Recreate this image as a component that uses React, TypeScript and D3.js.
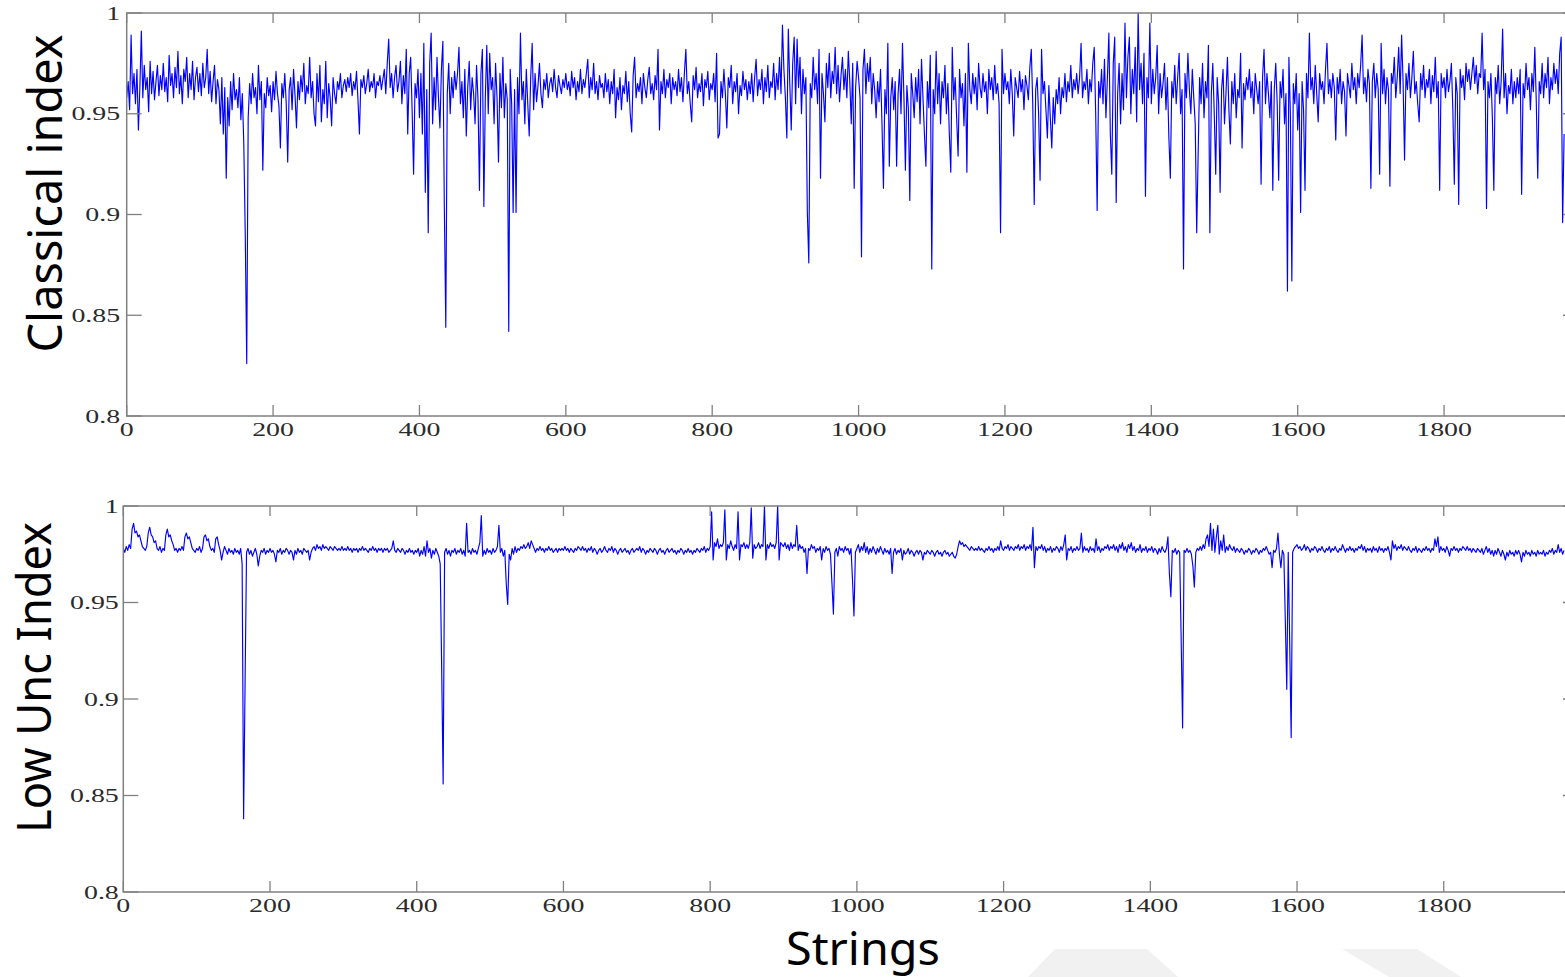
import * as d3 from 'd3'
import React, { useEffect, useRef } from 'react'

// index values in thousandths, one reading for every second string (0, 2, 4 ... 1964)
const classicalIndex = [
  958, 966, 952, 989, 960, 970, 955, 972, 942, 963, 991, 958, 974, 962, 968, 951, 976, 960, 971, 957, 966, 974, 959, 969, 962,
  975, 961, 968, 956, 979, 964, 970, 958, 973, 963, 981, 960, 969, 955, 972, 966, 978, 958, 970, 962, 976, 957, 968, 973, 961,
  970, 959, 975, 963, 968, 982, 960, 971, 956, 966, 974, 955, 967, 962, 945, 968, 940, 963, 918, 958, 944, 966, 952, 970, 957,
  962, 953, 968, 947, 960, 935, 890, 826, 948, 965, 955, 970, 958, 963, 950, 974, 957, 966, 922, 960, 953, 968, 959, 964, 951,
  966, 957, 971, 960, 954, 933, 965, 958, 970, 955, 926, 962, 968, 952, 972, 959, 943, 966, 957, 969, 961, 975, 955, 964, 960,
  978, 958, 966, 950, 944, 970, 956, 974, 946, 962, 955, 976, 948, 965, 958, 944, 968, 960, 955, 966, 962, 970, 958, 964, 967,
  961, 968, 963, 970, 959, 966, 962, 971, 957, 940, 967, 963, 969, 960, 965, 972, 961, 966, 963, 970, 958, 966, 964, 969, 962,
  967, 972, 960, 975, 987, 963, 970, 958, 968, 974, 961, 966, 976, 955, 969, 960, 982, 940, 970, 978, 952, 920, 965, 958, 972,
  948, 970, 940, 985, 911, 962, 891, 975, 990, 945, 968, 952, 978, 958, 943, 972, 986, 904, 844, 960, 975, 950, 968, 958, 971,
  962, 970, 983, 955, 966, 948, 972, 939, 963, 976, 952, 968, 960, 945, 974, 957, 912, 970, 982, 904, 958, 984, 950, 980, 962,
  968, 945, 975, 958, 926, 970, 953, 978, 948, 965, 957, 842, 972, 955, 901, 962, 901, 968, 950, 990, 957, 966, 945, 972, 955,
  939, 968, 985, 952, 970, 956, 964, 975, 960, 953, 967, 962, 970, 958, 965, 968, 961, 972, 963, 958, 969, 964, 960, 967, 963,
  970, 962, 966, 959, 971, 963, 968, 957, 966, 961, 972, 960, 967, 963, 970, 977, 958, 968, 962, 975, 960, 966, 957, 969, 963,
  965, 958, 970, 961, 967, 955, 966, 960, 972, 948, 963, 957, 968, 952, 964, 960, 971, 956, 966, 950, 941, 969, 978, 958, 965,
  961, 968, 955, 970, 963, 958, 967, 973, 960, 965, 957, 969, 962, 982, 942, 966, 960, 972, 958, 967, 963, 970, 955, 968, 962,
  966, 959, 972, 961, 968, 956, 970, 982, 960, 966, 955, 946, 969, 962, 973, 958, 965, 961, 970, 954, 967, 963, 971, 957, 965,
  962, 970, 956, 980, 938, 940, 966, 958, 972, 960, 943, 968, 963, 974, 955, 966, 961, 970, 950, 964, 959, 971, 962, 967, 957,
  966, 960, 970, 956, 968, 977, 959, 967, 962, 972, 955, 968, 961, 974, 958, 966, 963, 975, 957, 970, 962, 978, 960, 994, 972,
  958, 938, 992, 965, 942, 975, 988, 955, 987, 963, 978, 950, 972, 960, 968, 901, 876, 965, 958, 978, 962, 970, 955, 982, 918,
  970, 960, 946, 975, 963, 980, 958, 971, 965, 983, 960, 974, 956, 969, 978, 962, 972, 958, 981, 966, 945, 975, 913, 963, 976,
  968, 958, 879, 972, 982, 960, 975, 966, 978, 955, 970, 962, 948, 966, 956, 972, 945, 913, 962, 950, 985, 924, 958, 968, 952,
  966, 924, 960, 972, 950, 985, 958, 922, 964, 953, 907, 970, 960, 948, 968, 956, 972, 945, 977, 958, 940, 924, 966, 953, 979,
  873, 962, 950, 981, 955, 970, 945, 966, 958, 974, 950, 965, 940, 921, 983, 957, 968, 948, 929, 972, 958, 965, 944, 970, 921,
  985, 962, 955, 970, 960, 968, 952, 975, 963, 958, 970, 961, 966, 950, 972, 962, 968, 957, 974, 960, 965, 955, 891, 982, 960,
  970, 962, 966, 955, 972, 960, 939, 968, 963, 958, 971, 961, 967, 952, 969, 964, 957, 973, 982, 955, 905, 962, 968, 950, 917,
  982, 960, 966, 952, 938, 964, 948, 933, 958, 945, 962, 955, 968, 950, 963, 958, 970, 956, 966, 961, 974, 958, 967, 962, 970,
  960, 968, 985, 958, 966, 962, 972, 955, 967, 961, 975, 983, 950, 902, 966, 958, 972, 955, 977, 948, 968, 990, 940, 920, 975,
  988, 906, 960, 975, 945, 970, 952, 995, 958, 978, 988, 950, 972, 960, 983, 946, 1000, 962, 975, 955, 980, 909, 968, 958, 995,
  955, 972, 960, 968, 984, 950, 970, 958, 965, 975, 952, 968, 938, 918, 966, 958, 974, 955, 968, 980, 950, 962, 873, 970, 958,
  980, 962, 950, 972, 958, 945, 891, 930, 968, 955, 975, 948, 966, 958, 984, 891, 960, 975, 950, 920, 968, 955, 911, 962, 972,
  945, 960, 978, 952, 935, 966, 955, 970, 948, 962, 958, 980, 933, 965, 957, 968, 962, 972, 958, 966, 950, 970, 962, 955, 966,
  915, 968, 982, 955, 970, 960, 948, 966, 912, 962, 975, 955, 917, 966, 958, 972, 945, 960, 862, 978, 950, 867, 965, 955, 970,
  942, 960, 901, 966, 952, 912, 970, 958, 990, 962, 968, 955, 974, 960, 946, 970, 962, 966, 955, 972, 985, 960, 967, 958, 970,
  963, 937, 968, 960, 972, 955, 966, 961, 939, 970, 964, 958, 975, 962, 968, 955, 970, 963, 974, 989, 960, 968, 956, 972, 965,
  913, 966, 975, 958, 970, 962, 920, 985, 960, 972, 955, 968, 962, 914, 970, 965, 978, 958, 968, 983, 960, 989, 966, 927, 970,
  962, 975, 958, 968, 981, 960, 966, 955, 946, 970, 962, 974, 958, 967, 963, 972, 955, 969, 961, 978, 958, 966, 912, 970, 963,
  968, 958, 972, 961, 966, 975, 952, 915, 968, 960, 905, 972, 963, 969, 957, 975, 966, 972, 962, 970, 978, 965, 974, 960, 970,
  968, 990, 962, 972, 903, 966, 958, 970, 948, 912, 968, 960, 974, 955, 966, 992, 958, 970, 950, 964, 960, 972, 955, 966, 958,
  968, 960, 972, 910, 965, 958, 975, 962, 968, 952, 970, 961, 983, 956, 918, 966, 960, 975, 958, 970, 963, 978, 955, 968, 962,
  975, 965, 972, 960, 980, 988, 896, 940,
]

const lowUncIndex = [
  978, 976, 979, 977, 980, 978, 988, 991, 986, 987, 984, 985, 982, 979, 978, 977, 979, 986, 989, 985, 984, 981, 982, 978, 977,
  979, 976, 978, 977, 985, 988, 984, 985, 982, 980, 977, 978, 976, 978, 977, 979, 977, 984, 986, 983, 984, 981, 978, 977, 976,
  978, 977, 979, 976, 978, 984, 985, 982, 983, 979, 977, 978, 976, 983, 984, 980, 977, 972, 976, 979, 977, 975, 978, 976, 977,
  975, 978, 976, 977, 975, 978, 970, 838, 908, 976, 978, 975, 977, 974, 976, 978, 975, 969, 974, 977, 976, 978, 975, 977, 976,
  978, 976, 977, 975, 971, 977, 976, 978, 975, 977, 976, 978, 977, 975, 977, 976, 972, 977, 975, 978, 976, 977, 975, 978, 977,
  976, 977, 972, 976, 978, 979, 977, 980, 978, 979, 977, 980, 978, 979, 978, 977, 979, 978, 977, 979, 978, 977, 978, 977, 979,
  977, 978, 977, 979, 977, 978, 976, 978, 977, 978, 976, 978, 977, 979, 977, 978, 977, 976, 978, 977, 979, 977, 978, 976, 978,
  977, 978, 976, 978, 977, 978, 976, 977, 978, 982, 977, 976, 978, 977, 976, 978, 977, 975, 977, 976, 978, 976, 977, 975, 977,
  976, 978, 974, 977, 975, 979, 974, 982, 976, 978, 973, 977, 975, 978, 976, 974, 970, 916, 856, 976, 978, 975, 977, 974, 977,
  976, 978, 975, 977, 976, 978, 975, 977, 974, 991, 976, 977, 975, 978, 976, 977, 975, 978, 981, 995, 974, 977, 975, 978, 976,
  977, 975, 978, 976, 977, 979, 990, 976, 978, 974, 977, 960, 949, 975, 972, 978, 975, 979, 976, 978, 977, 979, 978, 980, 978,
  979, 981, 978, 982, 980, 978, 976, 978, 977, 979, 977, 978, 976, 978, 977, 979, 977, 978, 976, 977, 978, 976, 978, 977, 978,
  977, 979, 977, 978, 976, 978, 977, 976, 978, 977, 979, 978, 977, 979, 977, 978, 976, 978, 977, 979, 976, 978, 977, 975, 977,
  978, 976, 977, 979, 977, 976, 978, 977, 979, 976, 978, 977, 975, 977, 978, 976, 977, 978, 976, 977, 975, 977, 978, 976, 977,
  978, 977, 979, 976, 978, 977, 975, 977, 976, 978, 977, 976, 978, 977, 975, 977, 978, 976, 977, 975, 977, 978, 976, 977, 978,
  976, 977, 975, 977, 976, 978, 977, 975, 977, 976, 978, 976, 977, 975, 977, 976, 978, 977, 976, 978, 977, 979, 976, 978, 977,
  979, 997, 972, 981, 979, 983, 978, 980, 979, 981, 998, 972, 980, 978, 982, 979, 977, 980, 978, 997, 972, 980, 979, 981, 978,
  980, 978, 981, 999, 973, 980, 978, 979, 981, 978, 980, 979, 1000, 972, 980, 978, 981, 979, 980, 978, 981, 1000, 972, 981, 980,
  979, 981, 978, 980, 977, 981, 978, 980, 979, 990, 977, 980, 978, 979, 976, 978, 965, 978, 977, 980, 978, 979, 976, 978, 977,
  979, 972, 978, 976, 979, 977, 978, 975, 960, 944, 976, 978, 974, 979, 977, 978, 976, 979, 977, 978, 975, 978, 962, 943, 976,
  978, 980, 976, 979, 977, 981, 976, 979, 975, 978, 976, 979, 977, 975, 978, 976, 979, 977, 975, 978, 976, 977, 975, 978, 965,
  976, 978, 975, 977, 976, 978, 972, 977, 975, 976, 978, 975, 977, 976, 974, 976, 977, 975, 977, 976, 972, 976, 975, 977, 976,
  975, 977, 976, 974, 976, 977, 975, 976, 974, 976, 977, 975, 976, 974, 975, 976, 974, 973, 975, 979, 982, 980, 981, 979, 980,
  979, 978, 977, 979, 978, 977, 978, 977, 979, 977, 978, 977, 976, 978, 977, 979, 977, 978, 976, 978, 977, 979, 977, 982, 978,
  977, 979, 978, 980, 977, 979, 978, 977, 979, 978, 980, 977, 979, 978, 980, 977, 979, 978, 980, 977, 989, 968, 979, 977, 979,
  978, 980, 977, 979, 976, 978, 977, 979, 976, 978, 977, 979, 978, 976, 979, 977, 980, 985, 972, 978, 977, 979, 976, 978, 977,
  979, 977, 978, 986, 976, 979, 977, 978, 976, 979, 977, 978, 976, 983, 977, 979, 976, 978, 977, 979, 978, 980, 977, 979, 978,
  980, 977, 979, 976, 980, 978, 981, 977, 979, 976, 980, 978, 981, 977, 979, 976, 978, 977, 980, 976, 978, 977, 979, 976, 978,
  977, 979, 976, 978, 977, 975, 978, 976, 979, 977, 976, 978, 984, 965, 953, 977, 976, 978, 975, 977, 976, 932, 885, 977, 976,
  978, 976, 977, 975, 969, 958, 976, 978, 977, 979, 977, 980, 978, 983, 985, 979, 991, 977, 988, 976, 984, 990, 975, 982, 977,
  985, 976, 979, 977, 980, 978, 977, 979, 976, 978, 977, 976, 978, 977, 975, 977, 976, 978, 977, 975, 977, 976, 978, 977, 975,
  977, 976, 978, 977, 979, 977, 975, 976, 968, 977, 976, 978, 986, 975, 968, 977, 975, 941, 905, 976, 929, 880, 976, 978, 979,
  980, 978, 979, 977, 978, 980, 977, 979, 978, 976, 978, 977, 979, 978, 976, 978, 977, 979, 977, 976, 978, 977, 979, 976, 978,
  977, 979, 977, 976, 978, 977, 980, 978, 976, 978, 977, 979, 977, 978, 976, 978, 977, 979, 978, 980, 977, 979, 976, 978, 977,
  978, 976, 979, 977, 978, 976, 979, 977, 978, 976, 978, 977, 979, 976, 972, 982, 978, 980, 977, 979, 978, 980, 977, 979, 978,
  977, 979, 977, 976, 978, 977, 979, 976, 978, 977, 976, 978, 977, 979, 977, 978, 976, 978, 977, 983, 979, 984, 976, 979, 977,
  978, 976, 979, 977, 974, 978, 977, 979, 977, 978, 976, 978, 977, 979, 978, 977, 979, 977, 978, 976, 978, 977, 976, 978, 977,
  976, 978, 975, 977, 979, 976, 978, 975, 977, 974, 977, 975, 978, 976, 974, 977, 975, 972, 976, 974, 977, 975, 976, 974, 977,
  975, 977, 975, 971, 976, 974, 977, 975, 976, 974, 977, 975, 976, 974, 977, 975, 976, 975, 977, 974, 976, 975, 977, 976, 978,
  975, 977, 976, 980, 976, 978, 975, 977,
]

const xTicks = [0, 200, 400, 600, 800, 1000, 1200, 1400, 1600, 1800]
const yTicks = [0.8, 0.85, 0.9, 0.95, 1]
const yTickLabels = ['0.8', '0.85', '0.9', '0.95', '1']

const STEP = 2 // strings between two readings
const X_MAX = 1983
const RIGHT = 1578 // right edge of the axes, just past the picture
const SQUEEZE = 1.43 // the figure was stretched sideways

const panels = [
  { data: classicalIndex, title: 'Classical index', left: 126.7, top: 13, bottom: 416, titleX: 62, titleY: 193.5, titleLen: 318, titleSize: 47, labelGap: 6.5 },
  { data: lowUncIndex, title: 'Low Unc Index', left: 123.3, top: 506, bottom: 892, titleX: 51, titleY: 677.5, titleLen: 311, titleSize: 47, labelGap: 4.5 },
]

export default function App() {
  const sandbox = useRef<SVGSVGElement>(null)

  useEffect(() => {
    const svg = d3.select(sandbox.current)
    svg.selectAll('*').remove()

    //faint shapes behind the bottom of the figure
    const wm = [
      [[1055, 949], [1147, 949], [1178, 977], [1028, 977]],
      [[1342, 949], [1417, 949], [1461, 977], [1389, 977]],
    ]
    wm.forEach(p => {
      svg.append('polygon').attr('points', p.map(d => d.join(',')).join(' ')).attr('fill', '#f1f1f1')
    })

    panels.forEach(p => {
      const x = d3.scaleLinear().domain([0, X_MAX]).range([p.left, RIGHT])
      const y = d3.scaleLinear().domain([0.8, 1]).range([p.bottom, p.top])

      const line = d3
        .line<number>()
        .x((d, i) => x(i * STEP))
        .y(d => y(d / 1000))

      //series
      svg
        .append('path')
        .datum(p.data)
        .attr('d', line)
        .attr('fill', 'none')
        .attr('stroke', '#0000ff')
        .attr('stroke-width', 1.15)
        .attr('stroke-linejoin', 'round')

      //box
      svg
        .append('rect')
        .attr('x', p.left)
        .attr('y', p.top)
        .attr('width', RIGHT - p.left)
        .attr('height', p.bottom - p.top)
        .attr('fill', 'none')
        .attr('stroke', '#808080')
        .attr('stroke-width', 1.5)

      const g = svg.append('g').attr('stroke', '#808080').attr('stroke-width', 1.3)

      //x ticks
      xTicks.forEach(t => {
        g.append('line').attr('x1', x(t)).attr('x2', x(t)).attr('y1', p.bottom).attr('y2', p.bottom - 11)
        g.append('line').attr('x1', x(t)).attr('x2', x(t)).attr('y1', p.top).attr('y2', p.top + 10)
        svg
          .append('text')
          .attr('transform', `translate(${x(t)},${p.bottom + 19.5}) scale(${SQUEEZE},1)`)
          .attr('text-anchor', 'middle')
          .attr('font-family', '"Liberation Serif", serif')
          .attr('font-size', 19.5)
          .attr('fill', '#2a2a2a')
          .text(t)
      })

      //y ticks
      yTicks.forEach((t, k) => {
        g.append('line').attr('x1', p.left).attr('x2', p.left + 15).attr('y1', y(t)).attr('y2', y(t))
        g.append('line').attr('x1', RIGHT).attr('x2', RIGHT - 15).attr('y1', y(t)).attr('y2', y(t))
        svg
          .append('text')
          .attr('transform', `translate(${p.left - p.labelGap},${y(t) + 6.5}) scale(${SQUEEZE},1)`)
          .attr('text-anchor', 'end')
          .attr('font-family', '"Liberation Serif", serif')
          .attr('font-size', 19.5)
          .attr('fill', '#2a2a2a')
          .text(yTickLabels[k])
      })

      //axis title
      svg
        .append('text')
        .attr('transform', `translate(${p.titleX},${p.titleY}) rotate(-90)`)
        .attr('text-anchor', 'middle')
        .attr('font-family', '"Noto Sans", sans-serif')
        .attr('font-size', p.titleSize)
        .attr('textLength', p.titleLen)
        .attr('lengthAdjust', 'spacingAndGlyphs')
        .attr('fill', '#000')
        .text(p.title)
    })

    svg
      .append('text')
      .attr('x', 863)
      .attr('y', 965)
      .attr('text-anchor', 'middle')
      .attr('font-family', '"Noto Sans", sans-serif')
      .attr('font-size', 45)
      .attr('textLength', 154)
      .attr('lengthAdjust', 'spacingAndGlyphs')
      .attr('fill', '#000')
      .text('Strings')
  }, [sandbox])

  return (
    <svg
      ref={sandbox}
      width="1565"
      height="977"
      style={{ position: 'absolute', left: 0, top: 0, background: '#fff' }}
    />
  )
}
